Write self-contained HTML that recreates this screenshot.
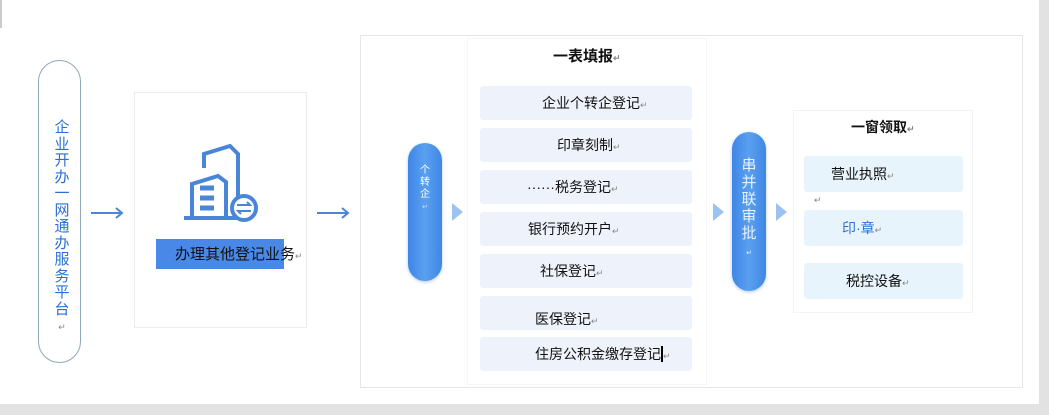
<!DOCTYPE html>
<html><head><meta charset="utf-8"><style>
*{margin:0;padding:0;box-sizing:border-box}
body{width:1049px;height:415px;position:relative;background:#fff;overflow:hidden;font-family:"Liberation Sans","Noto Sans CJK SC",sans-serif;color:#111}
.a{position:absolute}
.row{position:absolute;left:480px;width:212px;height:34px;background:#eef3fb;border-radius:3px;font-size:14px;line-height:34px}
.row2{position:absolute;left:804px;width:159px;height:36px;background:#e8f4fc;border-radius:3px;font-size:14px;line-height:36px}
.rt{font-size:9px;color:#888}
.pill{position:absolute;border-radius:20px;background:linear-gradient(90deg,#3f86e6,#5aa0f0 50%,#3f86e6);box-shadow:0 1px 3px rgba(60,120,220,.4)}
.chev{position:absolute;width:0;height:0;border-top:9px solid transparent;border-bottom:9px solid transparent;border-left:11px solid #9cc2ef}
</style></head><body>
<div class="a" style="left:1039px;top:0;width:10px;height:415px;background:#e2e2e2"></div>
<div class="a" style="left:0;top:404px;width:1049px;height:11px;background:#e2e2e2"></div>
<div class="a" style="left:0;top:0;width:2px;height:28px;background:#ccc"></div>

<div class="a" style="left:38px;top:60px;width:43px;height:303px;border:1px solid #8fa9b8;border-radius:22px"></div>
<div class="a" style="left:53px;top:120px;width:18px;font-size:15px;line-height:16.5px;color:#2a6fd6;text-align:center">企业开办一网通办服务平台<span class="rt">↵</span></div>

<svg class="a" style="left:88px;top:205px" width="40" height="16"><line x1="3" y1="8" x2="34" y2="8" stroke="#4a86d8" stroke-width="2"/><polyline points="28,3 34,8 28,13" fill="none" stroke="#4a86d8" stroke-width="2"/></svg>
<svg class="a" style="left:314px;top:205px" width="40" height="16"><line x1="3" y1="8" x2="34" y2="8" stroke="#4a86d8" stroke-width="2"/><polyline points="28,3 34,8 28,13" fill="none" stroke="#4a86d8" stroke-width="2"/></svg>

<div class="a" style="left:134px;top:92px;width:173px;height:236px;border:1px solid #ececec"></div>
<svg class="a" style="left:182px;top:144px" width="80" height="82" viewBox="0 0 80 82">
<g fill="none" stroke="#4a86d8" stroke-width="4">
<path d="M22 24 V10 L48 2 L56 10 V62"/>
<path d="M10 74 V40 L36 32 L44 38 V74"/>
<path d="M18 44 h14 M18 54 h14 M18 64 h14" stroke-width="5"/>
<line x1="2" y1="74" x2="60" y2="74"/>
<circle cx="62" cy="64" r="12" fill="#fff"/>
<path d="M55 61 h13 l-3 -3 M69 67 h-13 l3 3" stroke-width="2"/>
</g></svg>
<div class="a" style="left:156px;top:239px;width:128px;height:30px;background:#4a88e8"></div>
<div class="a" style="left:175px;top:246px;font-size:15px;line-height:18px;white-space:nowrap">办理其他登记业务<span class="rt">↵</span></div>

<div class="a" style="left:360px;top:35px;width:663px;height:353px;border:1px solid #e6e6e6"></div>
<div class="a" style="left:467px;top:38px;width:240px;height:347px;border:1px solid #f6f6f6"></div>

<div class="pill" style="left:408px;top:143px;width:34px;height:138px"></div>
<div class="a" style="left:418px;top:165px;width:14px;font-size:10px;line-height:12px;color:#fff;text-align:center">个转企<span style="font-size:7px;color:#ddd">↵</span></div>
<div class="chev" style="left:452px;top:203px"></div>

<div class="a" style="left:553px;top:47px;font-size:15px;font-weight:bold;line-height:20px">一表填报<span class="rt">↵</span></div>
<div class="row" style="top:86px;padding-left:62px">企业个转企登记<span class="rt">↵</span></div>
<div class="row" style="top:128px;padding-left:77px">印章刻制<span class="rt">↵</span></div>
<div class="row" style="top:170px;padding-left:47px">······税务登记<span class="rt">↵</span></div>
<div class="row" style="top:212px;padding-left:48px">银行预约开户<span class="rt">↵</span></div>
<div class="row" style="top:254px;padding-left:60px">社保登记<span class="rt">↵</span></div>
<div class="row" style="top:296px;padding-left:55px;line-height:46px">医保登记<span class="rt">↵</span></div>
<div class="row" style="top:337px;padding-left:55px">住房公积金缴存登记<span style="border-left:2px solid #000;margin-left:0">&#8203;</span><span class="rt">↵</span></div>

<div class="chev" style="left:713px;top:203px"></div>
<div class="pill" style="left:732px;top:132px;width:34px;height:159px"></div>
<div class="a" style="left:739px;top:157px;width:20px;font-size:15px;line-height:17px;color:#e8f1ff;text-align:center">串并联审批<span style="font-size:7px">↵</span></div>
<div class="chev" style="left:776px;top:203px"></div>

<div class="a" style="left:793px;top:110px;width:180px;height:203px;border:1px solid #f3f3f3"></div>
<div class="a" style="left:851px;top:117px;font-size:14px;font-weight:bold;line-height:20px">一窗领取<span class="rt">↵</span></div>
<div class="row2" style="top:156px;padding-left:27px;top:156px">营业执照<span class="rt">↵</span></div>
<div class="a rt" style="left:814px;top:195px">↵</div>
<div class="row2" style="top:210px;padding-left:38px;color:#2a6fd6">印·章<span class="rt">↵</span></div>
<div class="row2" style="top:263px;padding-left:42px">税控设备<span class="rt">↵</span></div>
</body></html>
